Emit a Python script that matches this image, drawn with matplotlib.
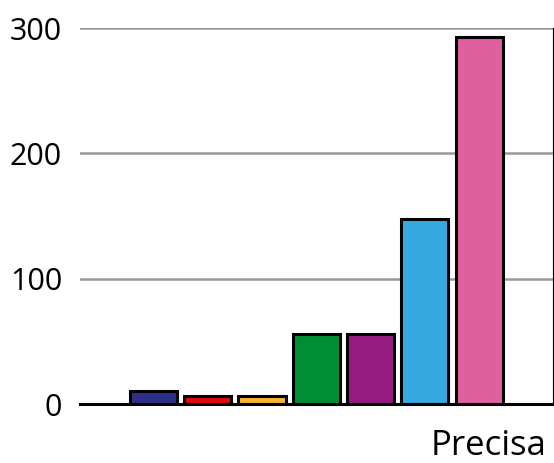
import numpy as np
import matplotlib.pyplot as plt

plt.rcParams['font.family'] = ['Open Sans', 'DejaVu Sans']

# données
valeurs = [10, 6, 6, 56, 56, 148, 293]
couleurs = ['#2E3087', '#E30613', '#F9B233', '#008D36', '#951B81', '#36A9E1', '#E05F9E']
yticks = [0, 100, 200, 300]
etiquette = 'Precisa'

police = 22

fig = plt.figure(figsize=(5.54, 4.63), dpi=100)
ax = fig.add_axes([80/554, 59/463, 473/554, 376/463])

x = np.arange(len(valeurs))
ax.bar(x, valeurs, width=0.87, color=couleurs, edgecolor='black', linewidth=2.2, zorder=3)

ax.set_xlim(-1.35, 7.36)
ax.set_ylim(0, 300)
ax.set_yticks(yticks)
ax.set_xticks([])
ax.yaxis.grid(True, color='#999999', linewidth=1.8, zorder=0)
ax.tick_params(axis='y', length=0, pad=13, labelsize=police)

for s in ['left', 'top']:
    ax.spines[s].set_visible(False)
ax.spines['bottom'].set_linewidth(2.2)
ax.spines['bottom'].set_zorder(4)
ax.spines['right'].set_linewidth(0.8)

fig.text(431/554, 1 - 446/463, etiquette, fontsize=25, ha='left', va='center')

fig.savefig('out.png', dpi=100)
